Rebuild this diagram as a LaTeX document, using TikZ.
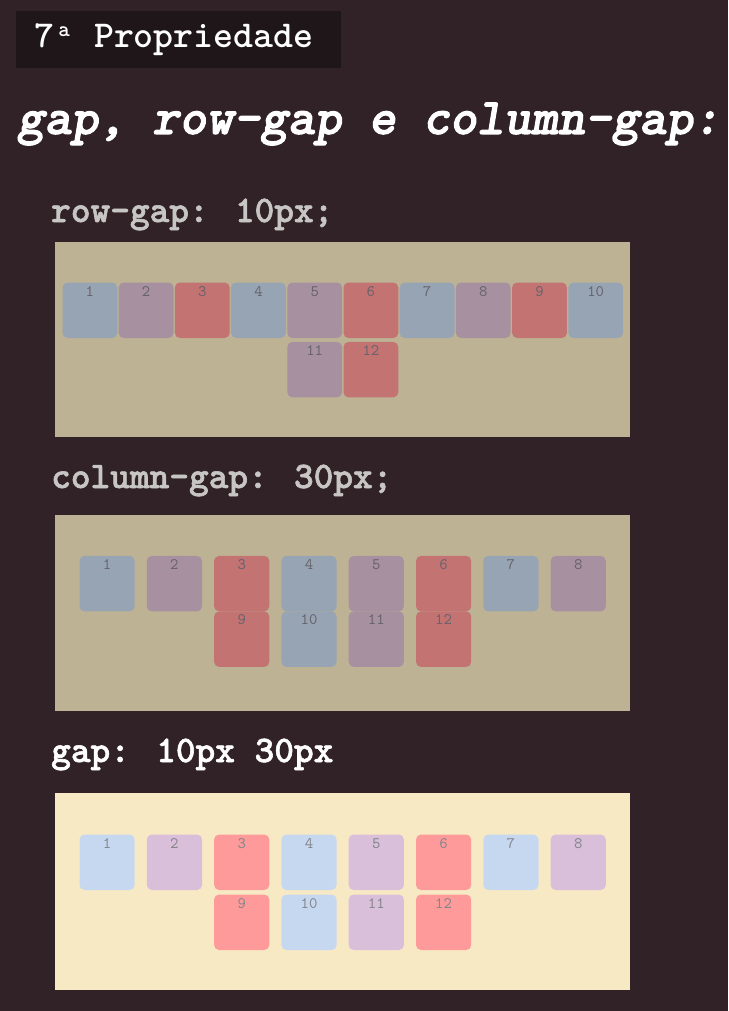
\documentclass[tikz,border=0pt]{standalone}
\usepackage{fontspec}
\newfontfamily\courrg{lmmono10-regular.otf}
\newfontfamily\courmd{lmmonolt10-bold.otf}
\newfontfamily\courbf{lmmonolt10-bold.otf}[FakeBold=1.6]
\newfontfamily\courbi{lmmonolt10-boldoblique.otf}[FakeBold=2]
\definecolor{pagebg}{HTML}{302226}
\definecolor{titlebg}{HTML}{1E1618}
\definecolor{headgray}{HTML}{C8C5C5}
\definecolor{dimbg}{HTML}{BDB394}
\definecolor{dim0}{HTML}{97A4B3}
\definecolor{dim1}{HTML}{A7909F}
\definecolor{dim2}{HTML}{C47373}
\definecolor{dimnum}{HTML}{67636B}
\definecolor{ltbg}{HTML}{F8E9C5}
\definecolor{lt0}{HTML}{C6D8F0}
\definecolor{lt1}{HTML}{D9BFD9}
\definecolor{lt2}{HTML}{FF9A9A}
\definecolor{ltnum}{HTML}{85858B}
\tikzset{
  panelbox/.style={anchor=north west, inner sep=0, minimum width=575, minimum height=196},
  cell/.style={anchor=north west, inner sep=0, rounded corners=5pt, minimum width=55.2,
    text height=13.5, text depth=42, font=\courrg\fontsize{16}{16}\selectfont},
  narrowcell/.style={cell, minimum width=54.8},
  heading/.style={anchor=base west, inner sep=0, font=\courbf\fontsize{37.5}{40}\selectfont},
}
\begin{document}
\begin{tikzpicture}[x=1pt,y=-1pt]
\useasboundingbox (0,0) rectangle (728,1011);
\fill[pagebg] (0,0) rectangle (728,1011);
% title box
\node[anchor=north west, inner sep=0, fill=titlebg, minimum width=325, minimum height=57] (tbox) at (16,11) {};
\node[anchor=base west, inner sep=0, text=white, font=\courmd\fontsize{38}{40}\selectfont] (ttext) at (34,48)
  {7\makebox[0.525em][c]{\raisebox{11.5pt}{\fontsize{22}{22}\selectfont a}} Propriedade};
% main title
\node[anchor=base west, inner sep=0, text=white, font=\courbi\fontsize{51.5}{55}\selectfont] (title) at (17,134) {gap, row-gap e column-gap:};
% panel 1
\node[heading, text=headgray] (h1) at (51,222) {row-gap: 10px;};
\node[panelbox, fill=dimbg, minimum height=195] (p1) at (55,242) {};
\foreach \i in {1,...,10} {
  \pgfmathsetmacro\k{int(mod(\i-1,3))}
  \node[narrowcell, fill=dim\k, text=dimnum] (a\i) at ({62.3+56.2*(\i-1)},282.3) {\i};
}
\node[narrowcell, fill=dim1, text=dimnum] (a11) at ({62.3+56.2*4},341.7) {11};
\node[narrowcell, fill=dim2, text=dimnum] (a12) at ({62.3+56.2*5},341.7) {12};
% panel 2
\node[heading, text=headgray] (h2) at (51,488) {column-gap: 30px;};
\node[panelbox, fill=dimbg] (p2) at (55,515) {};
\foreach \i in {1,...,8} {
  \pgfmathsetmacro\k{int(mod(\i-1,3))}
  \node[cell, fill=dim\k, text=dimnum] (b\i) at ({79.3+67.3*(\i-1)},555.7) {\i};
}
\foreach \i/\c in {9/3,10/4,11/5,12/6} {
  \pgfmathsetmacro\k{int(mod(\i-1,3))}
  \node[cell, fill=dim\k, text=dimnum] (b\i) at ({79.3+67.3*(\c-1)},611.2) {\i};
}
% panel 3
\node[heading, text=white] (h3) at (51,762) {gap: 10px 30px};
\node[panelbox, fill=ltbg, minimum height=197] (p3) at (55,793) {};
\foreach \i in {1,...,8} {
  \pgfmathsetmacro\k{int(mod(\i-1,3))}
  \node[cell, fill=lt\k, text=ltnum] (c\i) at ({79.3+67.3*(\i-1)},834.3) {\i};
}
\foreach \i/\c in {9/3,10/4,11/5,12/6} {
  \pgfmathsetmacro\k{int(mod(\i-1,3))}
  \node[cell, fill=lt\k, text=ltnum] (c\i) at ({79.3+67.3*(\c-1)},894.3) {\i};
}
\end{tikzpicture}
\end{document}
